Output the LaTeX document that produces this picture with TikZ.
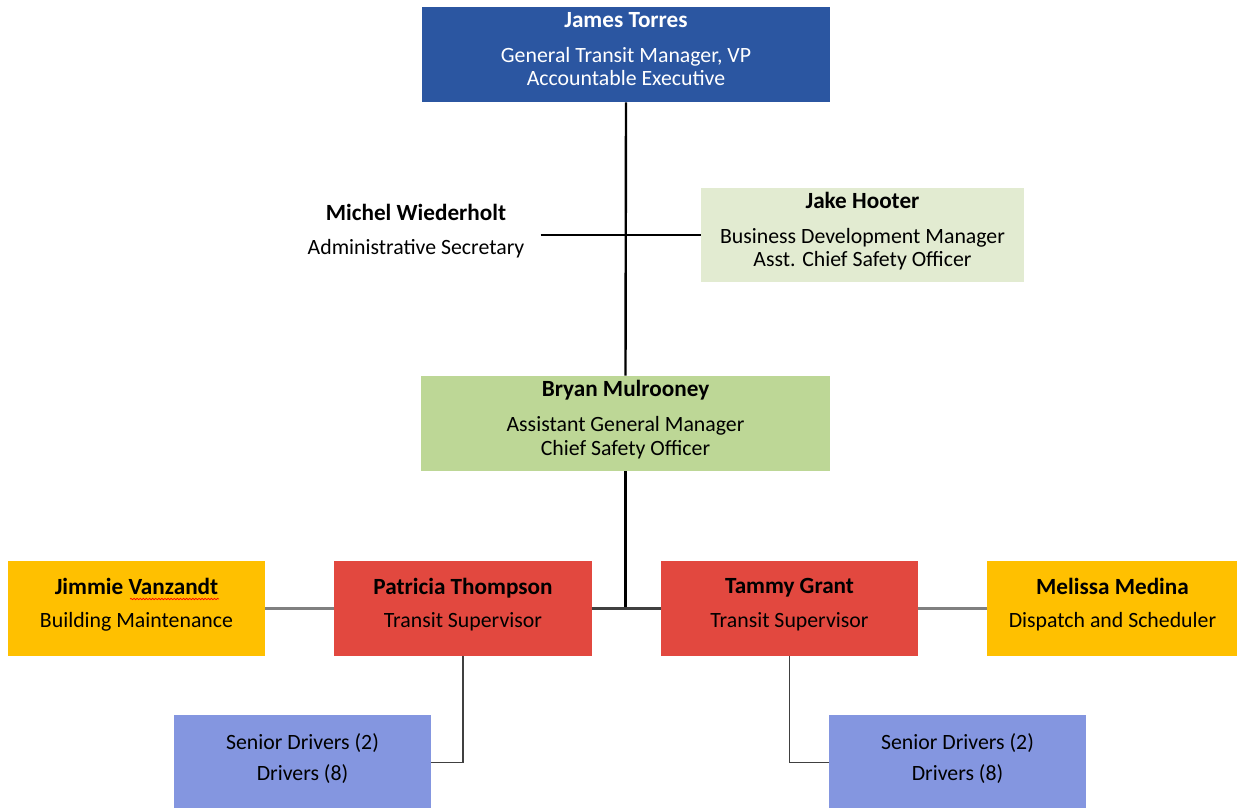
\documentclass[tikz,border=0pt]{standalone}
\usepackage{fontspec}
\setmainfont{Carlito}
\usetikzlibrary{decorations.pathmorphing}
\definecolor{topblue}{HTML}{2B56A1}
\definecolor{palegreen}{HTML}{E2EBD1}
\definecolor{midgreen}{HTML}{BDD796}
\definecolor{superred}{HTML}{E2483F}
\definecolor{maintorange}{HTML}{FFC000}
\definecolor{driverblue}{HTML}{8496E0}
\newcommand{\nm}[1]{{\fontsize{16.5}{16.5}\selectfont\textbf{#1}}}
\newcommand{\lift}{\rule[-8pt]{0pt}{1pt}}
\begin{document}
\begin{tikzpicture}[x=0.025cm,y=-0.025cm,
        box/.style={align=center,inner sep=0pt,
            font=\fontsize{15.5}{16.5}\selectfont},
        wide/.style={box,minimum width=10.2cm,minimum height=2.375cm},
        small/.style={box,minimum width=6.425cm,minimum height=2.375cm},
        link/.style={line width=1.7pt,black},
        side/.style={line width=1.7pt,gray}]
            \useasboundingbox (0,0) rectangle (1237,808);
            % top levels
                \node[wide,fill=topblue,text=white] (james) at (626,54.5)
                    {\nm{James Torres}\\[8.5pt] General Transit Manager, VP\\ Accountable Executive\lift};
                \node[box,minimum width=8.075cm,minimum height=2.35cm,fill=palegreen] (jake) at (862.5,235)
                    {\nm{Jake Hooter}\\[8.5pt] Business Development Manager\\ Asst. Chief Safety Officer\lift};
                \node[box,inner xsep=0.4cm] (michel) at (416,231)
                    {\nm{Michel Wiederholt}\\[7.5pt] Administrative Secretary};
                \node[wide,fill=midgreen] (bryan) at (625.5,423.5)
                    {\nm{Bryan Mulrooney}\\[8.5pt] Assistant General Manager\\ Chief Safety Officer\lift};
            % supervisors
                \node[small,fill=superred] (patricia) at (463,608.5)
                    {\nm{Patricia Thompson}\\[7.5pt] Transit Supervisor\lift};
                \node[small,fill=superred] (tammy) at (789.5,608.5)
                    {\nm{Tammy Grant}\\[7.5pt] Transit Supervisor\lift};
                \node[small,fill=maintorange] (jimmie) at (136.5,608.5)
                    {\nm{Jimmie Vanzandt}\\[7.5pt] Building Maintenance\lift};
                \node[small,minimum width=6.25cm,fill=maintorange] (melissa) at (1112.5,608.5)
                    {\nm{Melissa Medina}\\[7.5pt] Dispatch and Scheduler\lift};
                \draw[red,line width=0.5pt,decorate,decoration={snake,amplitude=0.5pt,segment length=2.2pt}]
                    (130,599) -- (219,599);
            % drivers
                \node[small,fill=driverblue] (drvleft) at (302.5,762.5)
                    {Senior Drivers (2)\\[6pt] Drivers (8)\lift};
                \node[small,fill=driverblue] (drvright) at (957.5,762.5)
                    {Senior Drivers (2)\\[6pt] Drivers (8)\lift};
            % connectors
                \draw[link]
                    (james.south) -- (bryan.north);
                \draw[link]
                    (michel.east |- jake.west) -- (jake.west);
                \draw[link]
                    (bryan.south) -- (bryan.south |- patricia.east);
                \draw[line width=1.7pt,black!75]
                    (patricia.east) -- (tammy.west);
                \draw[side]
                    (jimmie.east) -- (patricia.west);
                \draw[side]
                    (tammy.east) -- (melissa.west);
                \draw[line width=1.3pt,black!75]
                    (patricia.south) |- (drvleft.east);
                \draw[line width=1.3pt,black!75]
                    (tammy.south) |- (drvright.west);
            \end{tikzpicture}
\end{document}
